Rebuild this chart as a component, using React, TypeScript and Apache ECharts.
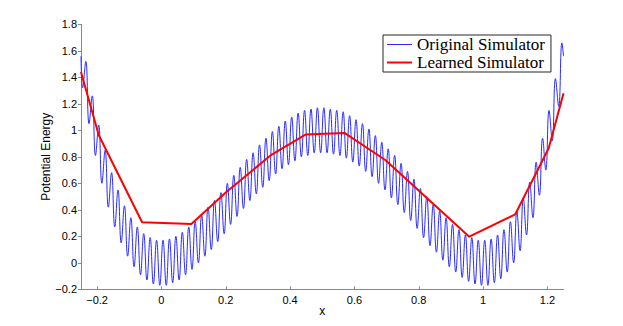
import React, { useEffect, useRef } from "react";
import * as echarts from "echarts";

// Original simulator: value at x = -0.25, then alternating troughs/peaks sampled
// every 0.01 from x = -0.245 to 1.245, then value at x = 1.25
const blueStartX = -0.25;
const blueEndX = 1.25;
const blueSampleStart = -0.245;
const blueSampleStep = 0.01;
const blueStartY = 1.56;
const blueEndY = 1.56;
const blueSamples = [
  1.32, 1.52, 1.05, 1.26, 0.81, 1.04, 0.6, 0.85, 0.42, 0.68,
  0.27, 0.55, 0.15, 0.43, 0.05, 0.34, -0.03, 0.27, -0.09, 0.22,
  -0.13, 0.19, -0.16, 0.17, -0.17, 0.17, -0.17, 0.18, -0.15, 0.2,
  -0.13, 0.23, -0.09, 0.27, -0.05, 0.31, 0.0, 0.36, 0.05, 0.42,
  0.1, 0.47, 0.16, 0.53, 0.22, 0.6, 0.29, 0.66, 0.35, 0.72,
  0.41, 0.78, 0.47, 0.83, 0.52, 0.89, 0.57, 0.94, 0.62, 0.99,
  0.67, 1.03, 0.71, 1.07, 0.74, 1.1, 0.77, 1.13, 0.8, 1.15,
  0.81, 1.16, 0.83, 1.17, 0.83, 1.17, 0.83, 1.16, 0.82, 1.15,
  0.81, 1.14, 0.79, 1.11, 0.76, 1.08, 0.73, 1.05, 0.69, 1.01,
  0.65, 0.96, 0.6, 0.91, 0.55, 0.86, 0.49, 0.81, 0.44, 0.75,
  0.38, 0.69, 0.32, 0.63, 0.26, 0.56, 0.19, 0.5, 0.13, 0.44,
  0.08, 0.39, 0.02, 0.34, -0.03, 0.29, -0.07, 0.25, -0.11, 0.21,
  -0.14, 0.19, -0.16, 0.17, -0.17, 0.17, -0.17, 0.18, -0.15, 0.21,
  -0.12, 0.25, -0.07, 0.31, 0.0, 0.39, 0.09, 0.49, 0.21, 0.61,
  0.34, 0.76, 0.51, 0.94, 0.7, 1.15, 0.92, 1.39, 1.18, 1.66,
];

// Learned simulator (piecewise linear)
const redX = [-0.25, -0.195, -0.06, 0.093, 0.2, 0.339, 0.448, 0.569, 0.696, 0.957, 1.1, 1.204, 1.25];
const redY = [1.44, 0.965, 0.306, 0.293, 0.53, 0.81, 0.968, 0.98, 0.776, 0.197, 0.366, 0.864, 1.28];

const xTicks = [-0.2, 0, 0.2, 0.4, 0.6, 0.8, 1, 1.2];
const yMin = -0.2;
const yMax = 1.8;
const yStep = 0.2;

const seriesNames = ["Original Simulator", "Learned Simulator"];
const axisNames = { x: "x", y: "Potential Energy" };

const fmt = (v: number) => {
  const s = String(Number(v.toFixed(1)));
  return s.replace("-", "\u2212");
};

export default function App() {
  const ref = useRef<HTMLDivElement>(null);
  useEffect(() => {
    if (!ref.current) return;
    const chart = echarts.init(ref.current, undefined, { renderer: "svg" });
    const blueData: number[][] = [[blueStartX, blueStartY]];
    blueSamples.forEach((v, i) => blueData.push([blueSampleStart + i * blueSampleStep, v]));
    blueData.push([blueEndX, blueEndY]);
    const redData = redX.map((x, i) => [x, redY[i]]);
    const axisColor = "#8a8a8a";
    chart.setOption({
      animation: false,
      backgroundColor: "#ffffff",
      grid: { left: 81, right: 59.5, top: 24.3, bottom: 36.7, containLabel: false },
      legend: {
        orient: "vertical",
        left: 383,
        top: 35,
        backgroundColor: "#ffffff",
        borderColor: "#262626",
        borderWidth: 1,
        borderRadius: 0,
        padding: [1, 6, 1, 4],
        itemGap: 1,
        itemWidth: 25,
        itemHeight: 14,
        textStyle: { fontFamily: "Liberation Serif", fontSize: 17, color: "#000", lineHeight: 17 },
        data: [
          { name: seriesNames[0], icon: "path://M0,6.5 L25,6.5 L25,7.5 L0,7.5 Z" },
          { name: seriesNames[1], icon: "path://M0,6 L25,6 L25,8 L0,8 Z" },
        ],
      },
      xAxis: {
        type: "value",
        min: -0.25,
        max: 1.25,
        name: axisNames.x,
        nameLocation: "middle",
        nameGap: 16,
        nameMoveOverlap: false,
        nameTextStyle: { fontFamily: "Liberation Sans", fontSize: 12, color: "#000" },
        axisLine: { onZero: false, lineStyle: { color: axisColor, width: 1 } },
        axisTick: { show: true, inside: true, length: 3, customValues: xTicks, lineStyle: { color: axisColor } },
        axisLabel: {
          customValues: xTicks,
          formatter: (v: number) => fmt(v),
          fontFamily: "Liberation Sans",
          fontSize: 11,
          color: "#000",
          margin: 5,
        },
        splitLine: { show: false },
      },
      yAxis: {
        type: "value",
        min: yMin,
        max: yMax,
        interval: yStep,
        name: axisNames.y,
        nameLocation: "middle",
        nameGap: 29,
        nameMoveOverlap: false,
        nameTextStyle: { fontFamily: "Liberation Sans", fontSize: 12, color: "#000" },
        axisLine: { show: true, onZero: false, lineStyle: { color: axisColor, width: 1 } },
        axisTick: { show: true, inside: false, length: 3, lineStyle: { color: axisColor } },
        axisLabel: {
          formatter: (v: number) => fmt(v),
          fontFamily: "Liberation Sans",
          fontSize: 11,
          color: "#000",
          margin: 4,
        },
        splitLine: { show: false },
      },
      series: [
        {
          name: seriesNames[0],
          type: "line",
          data: blueData,
          showSymbol: false,
          symbol: "none",
          smooth: 0.45,
          lineStyle: { color: "#2a2aff", width: 1 },
          itemStyle: { color: "#2a2aff" },
          z: 2,
        },
        {
          name: seriesNames[1],
          type: "line",
          data: redData,
          showSymbol: false,
          symbol: "none",
          lineStyle: { color: "#ff0000", width: 2 },
          itemStyle: { color: "#ff0000" },
          z: 3,
        },
      ],
    });
    return () => chart.dispose();
  }, []);
  return (
    <div
      ref={ref}
      style={{ position: "fixed", left: 0, top: 0, width: 623, height: 326, background: "#fff" }}
    />
  );
}
